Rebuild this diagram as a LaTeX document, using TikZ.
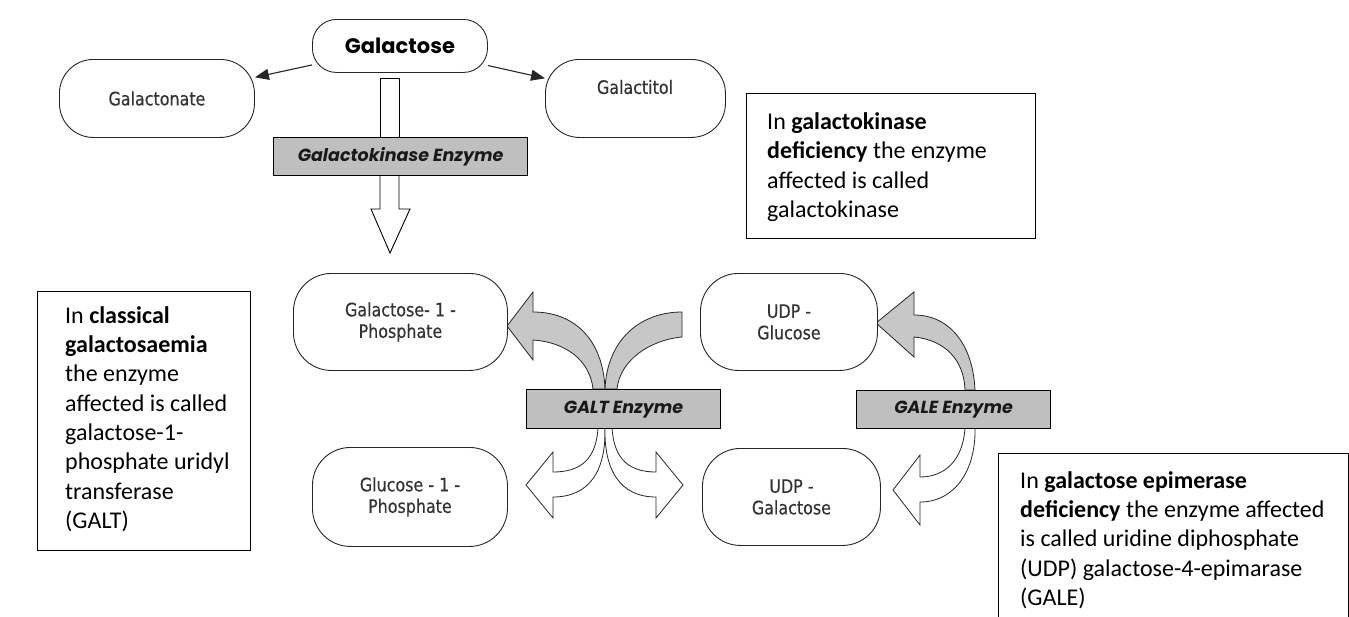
\documentclass[tikz,border=0pt]{standalone}
\usepackage{fontspec}
\setmainfont{Carlito}
\newfontfamily\lblfont[FakeStretch=0.86,FakeBold=0.35]{DejaVu Sans}
\newfontfamily\geofont{Poppins}
\usetikzlibrary{arrows.meta}
\begin{document}
\begin{tikzpicture}[x=1pt,y=-1pt,
  pill/.style={draw=black!85, line width=0.9pt, fill=white, anchor=north west, inner sep=0pt,
    font=\lblfont\fontsize{18.5}{21.5}\selectfont, text=black!80, align=center},
  enz/.style={draw=black, line width=1.2pt, fill=black!25, anchor=north west, inner sep=0pt,
    font=\geofont\fontsize{17.5}{19}\selectfont\bfseries\itshape, text=black!90},
  notebox/.style={draw=black, line width=1.4pt, anchor=north west, inner sep=0pt},
  notetext/.style={anchor=west, inner sep=0pt, align=left, font=\fontsize{24}{29.3}\selectfont},
  band/.style={draw=black!85, line width=0.8pt, line join=miter},
  grayband/.style={band, fill=black!22},
  whiteband/.style={band, fill=white},
  link/.style={draw=black!85, line width=1.1pt, -{Triangle[length=14pt,width=11pt]}}
]
\useasboundingbox (0,0) rectangle (1349,616);

% stem and hollow arrow of galactokinase step
\draw[line width=0.9pt, fill=white] (380,78) rectangle (399,137);
\draw[line width=0.9pt, fill=white, line join=miter] (380,175) -- (380,209) -- (371,209) -- (390,253) -- (410,209) -- (399,209) -- (399,175) -- cycle;

% GALT bands
\draw[grayband] (605,389) .. controls (603,340) and (575,312) .. (533,312) -- (533,292) -- (507,326) -- (533,360) -- (533,340) .. controls (565,342) and (590,360) .. (593,389) -- cycle;
\draw[grayband] (605,389) .. controls (607,340) and (640,312) .. (682,312) -- (682,337) .. controls (650,340) and (620,360) .. (617,389) -- cycle;
\draw[whiteband] (598,428) .. controls (596,460) and (580,472) .. (553,472) -- (553,452) -- (526,485) -- (553,518) -- (553,497) .. controls (590,497) and (606,470) .. (605,428) -- cycle;
\draw[whiteband] (612,428) .. controls (614,460) and (630,472) .. (656,472) -- (656,452) -- (683,485) -- (656,518) -- (656,497) .. controls (620,497) and (604,470) .. (605,428) -- cycle;

% GALE bands
\draw[grayband] (975,390) .. controls (973,345) and (950,315) .. (914,315) -- (914,292) -- (876,323) -- (914,357) -- (914,337) .. controls (945,340) and (964,360) .. (965,390) -- cycle;
\draw[whiteband] (965,428) .. controls (963,460) and (945,477) .. (920,477) -- (920,455) -- (893,490) -- (920,525) -- (920,502) .. controls (955,502) and (976,470) .. (975,428) -- cycle;

% enzyme bars
\node[enz, minimum width=254pt, minimum height=38pt] (gkbar) at (273,137) {Galactokinase Enzyme};
\node[enz, minimum width=194pt, minimum height=39pt] (galt) at (526,389) {GALT Enzyme};
\node[enz, minimum width=194pt, minimum height=38pt] (gale) at (856,390) {GALE Enzyme};

% metabolites
\node[pill, minimum width=175pt, minimum height=53pt, rounded corners=24pt,
  font=\geofont\fontsize{21}{24}\selectfont\bfseries, text=black] (galactose) at (312,19) {Galactose};
\node[pill, minimum width=195pt, minimum height=78pt, rounded corners=34pt] (galactonate) at (59,59) {Galactonate};
\node[pill, minimum width=180pt, minimum height=78pt, rounded corners=34pt] (galactitol) at (545,59) {};
\node[pill, anchor=center, draw=none, fill=none] (galactitoltext) at (635,87) {Galactitol};
\node[pill, minimum width=214pt, minimum height=97pt, rounded corners=38pt] (g1p) at (293,273) {Galactose- 1 -\\Phosphate};
\node[pill, minimum width=177pt, minimum height=97pt, rounded corners=38pt] (udpglc) at (700,273) {UDP -\\Glucose};
\node[pill, minimum width=195pt, minimum height=99pt, rounded corners=38pt] (glc1p) at (312,447) {Glucose - 1 -\\Phosphate};
\node[pill, minimum width=178pt, minimum height=97pt, rounded corners=38pt] (udpgal) at (702,448) {UDP -\\Galactose};

\draw[link] (galactose) -- (galactonate);
\draw[link] (galactose) -- (galactitol);

% notes
\node[notebox, minimum width=289pt, minimum height=145pt] (box1) at (746,93) {};
\node[notetext] (text1) at (767,167) {In \textbf{galactokinase}\\\textbf{deficiency} the enzyme\\affected is called\\galactokinase};
\node[notebox, minimum width=213pt, minimum height=259pt] (box2) at (37,291) {};
\node[notetext] (text2) at (65,419) {In \textbf{classical}\\\textbf{galactosaemia}\\the enzyme\\affected is called\\galactose-1-\\phosphate uridyl\\transferase\\(GALT)};
\node[notebox, minimum width=350pt, minimum height=180pt] (box3) at (998,453) {};
\node[notetext] (text3) at (1020,540) {In \textbf{galactose epimerase}\\\textbf{deficiency} the enzyme affected\\is called uridine diphosphate\\(UDP) galactose-4-epimarase\\(GALE)};
\end{tikzpicture}
\end{document}
